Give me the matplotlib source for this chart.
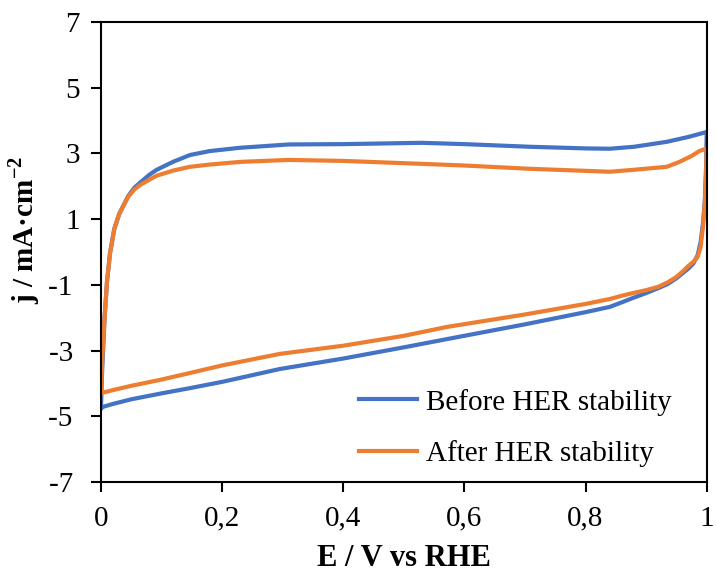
import numpy as np
import matplotlib
matplotlib.use("Agg")
import matplotlib.pyplot as plt

plt.rcParams['font.family'] = ['Liberation Serif', 'DejaVu Serif']
plt.rcParams['mathtext.fontset'] = 'custom'
plt.rcParams['mathtext.rm'] = 'Liberation Serif'
plt.rcParams['mathtext.bf'] = 'Liberation Serif:bold'
plt.rcParams['axes.unicode_minus'] = False

# forward (anodic) scan, 0 -> 1 V
x_fwd = [0, 0.002, 0.006, 0.010, 0.015, 0.022, 0.030, 0.036, 0.045, 0.055, 0.064,
         0.08, 0.092, 0.12, 0.147, 0.18, 0.23, 0.31, 0.4, 0.53, 0.6, 0.708, 0.8,
         0.84, 0.88, 0.934, 0.97, 1.0]
before_fwd = [-4.75, -3.6, -2.0, -0.9, -0.03, 0.7, 1.15, 1.37, 1.7, 1.95, 2.1,
              2.35, 2.5, 2.75, 2.95, 3.07, 3.17, 3.27, 3.28, 3.32, 3.28, 3.2, 3.15,
              3.14, 3.2, 3.35, 3.5, 3.65]
x_fwd_a = [0, 0.002, 0.006, 0.010, 0.015, 0.022, 0.030, 0.036, 0.045, 0.055, 0.064,
           0.08, 0.092, 0.12, 0.147, 0.18, 0.23, 0.31, 0.4, 0.53, 0.6, 0.708, 0.84,
           0.88, 0.934, 0.955, 0.975, 0.988, 1.0]
after_fwd = [-4.3, -3.3, -2.0, -0.9, -0.03, 0.7, 1.15, 1.37, 1.68, 1.9, 2.03,
             2.2, 2.32, 2.48, 2.59, 2.66, 2.74, 2.8, 2.77, 2.68, 2.63, 2.53, 2.44,
             2.5, 2.59, 2.74, 2.92, 3.07, 3.15]

# reverse (cathodic) scan, 1 -> 0 V
x_rev = [1.0, 0.999, 0.997, 0.994, 0.99, 0.985, 0.978, 0.97, 0.96, 0.95, 0.935,
         0.92, 0.9, 0.878, 0.86, 0.84, 0.8, 0.7, 0.571, 0.5, 0.4, 0.295, 0.2,
         0.147, 0.1, 0.05, 0.02, 0.005, 0.0]
before_rev = [3.65, 2.6, 1.6, 0.9, 0.3, -0.1, -0.35, -0.5, -0.65, -0.8, -0.98,
              -1.1, -1.25, -1.4, -1.53, -1.67, -1.83, -2.2, -2.65, -2.9, -3.24, -3.56, -3.95,
              -4.14, -4.3, -4.48, -4.62, -4.7, -4.75]
after_rev = [3.15, 2.4, 1.5, 0.8, 0.15, -0.15, -0.3, -0.42, -0.6, -0.76, -0.93,
             -1.06, -1.16, -1.25, -1.33, -1.43, -1.58, -1.9, -2.28, -2.55, -2.85, -3.1, -3.45,
             -3.68, -3.88, -4.07, -4.2, -4.27, -4.3]

xticks = [0, 0.2, 0.4, 0.6, 0.8, 1.0]
xticklabels = ['0', '0,2', '0,4', '0,6', '0,8', '1']
yticks = [-7, -5, -3, -1, 1, 3, 5, 7]
yticklabels = ['-7\u00a0', '-5\u00a0', '-3\u00a0', '-1\u00a0', '1', '3', '5', '7']

fig = plt.figure(figsize=(7.16, 5.74), dpi=100)
ax = fig.add_axes([0.141, 0.160, 0.846, 0.802])

ax.plot(x_fwd + x_rev, before_fwd + before_rev, color='#4472C4', lw=3,
        label='Before HER stability', solid_joinstyle='round')
ax.plot(x_fwd_a + x_rev, after_fwd + after_rev, color='#ED7D31', lw=3,
        label='After HER stability', solid_joinstyle='round')

ax.set_xlim(0, 1)
ax.set_ylim(-7, 7)
ax.set_xticks(xticks)
ax.set_xticklabels(xticklabels)
ax.set_yticks(yticks)
ax.set_yticklabels(yticklabels)
ax.tick_params(direction='out', length=7, width=1.5, labelsize=21)
ax.tick_params(axis='x', pad=10)
ax.tick_params(axis='y', pad=8)
for s in ax.spines.values():
    s.set_linewidth(1.5)

ax.set_xlabel('E / V vs RHE', fontsize=22, fontweight='bold', labelpad=9)
ax.set_ylabel(r'j / mA·cm$^{\mathbf{-2}}$', fontsize=21, fontweight='bold')
ax.yaxis.set_label_coords(-0.097, 0.548)

ax.legend(loc='lower right', frameon=False, fontsize=21, handlelength=2.0,
          labelspacing=0.85, handletextpad=0.3, bbox_to_anchor=(0.985, -0.025))

fig.savefig('out.png', dpi=100)
